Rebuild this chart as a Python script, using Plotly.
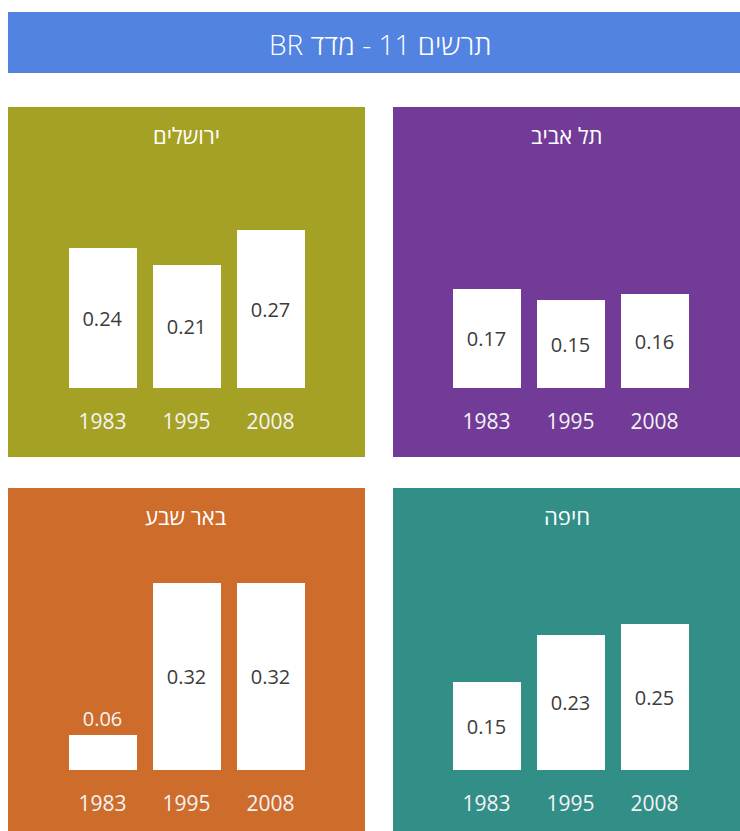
import plotly.graph_objects as go

# Data
years = ["1983", "1995", "2008"]
cities = ["ירושלים", "תל אביב", "באר שבע", "חיפה"]
jerusalem = [0.24, 0.21, 0.27]
tel_aviv = [0.17, 0.15, 0.16]
beer_sheva = [0.06, 0.32, 0.32]
haifa = [0.15, 0.23, 0.25]
main_title = "תרשים 11 - מדד BR"

W, H = 740, 831
FONT = "Open Sans"


def px(x):
    return x / W


def py(y):
    return 1 - y / H


def rtl(s):
    # right-to-left embedding so mixed Hebrew/Latin text reads correctly
    return "\u202b" + s + "\u202c"


fig = go.Figure()

# panel layout in pixels: (x0, x1, y0, y1, colour, bar-centre x, baseline y)
panels = [
    (8, 365, 107, 457, "#a5a124", 186.5, 388),
    (393, 740, 107, 457, "#723b97", 570.5, 388),
    (8, 365, 488, 831, "#ce6c2c", 186.5, 770),
    (393, 740, 488, 831, "#328f87", 570.5, 770),
]
series = [jerusalem, tel_aviv, beer_sheva, haifa]

SCALE = 585.0          # pixels per unit on the value axis
STEP = 84.0            # pixels per category
PLOT_H = 190.0         # pixel height of the value-axis domain

shapes = [
    dict(type="rect", xref="paper", yref="paper",
         x0=px(8), x1=px(740), y0=py(73), y1=py(12),
         fillcolor="#5283e0", line_width=0, layer="below"),
]
annotations = [
    dict(text=rtl(main_title), xref="paper", yref="paper",
         x=px(380), y=py(44), xanchor="center", yanchor="middle",
         showarrow=False,
         font=dict(family=FONT, size=28, color="white", weight=300)),
]

for i, ((x0, x1, y0, y1, col, cx, base), vals, name) in enumerate(
        zip(panels, series, cities)):
    n = i + 1
    xa = "x" if n == 1 else f"x{n}"
    ya = "y" if n == 1 else f"y{n}"
    shapes.append(dict(type="rect", xref="paper", yref="paper",
                       x0=px(x0), x1=px(x1), y0=py(y1), y1=py(y0),
                       fillcolor=col, line_width=0, layer="below"))
    annotations.append(dict(text=rtl(name), xref="paper", yref="paper",
                            x=px((x0 + x1) / 2), y=py(y0 + 28),
                            xanchor="center", yanchor="middle",
                            showarrow=False,
                            font=dict(family=FONT, size=22, color="white")))

    positions = ["outside" if v < 0.1 else "inside" for v in vals]
    fig.add_trace(go.Bar(
        x=years, y=vals, xaxis=xa, yaxis=ya,
        marker=dict(color="white", line_width=0),
        width=68 / STEP,
        text=[f"{v:.2f}" for v in vals],
        textposition=positions,
        insidetextanchor="middle",
        insidetextfont=dict(family=FONT, size=20, color="#3c3c3c"),
        outsidetextfont=dict(family=FONT, size=20, color="#f4f4f4"),
        cliponaxis=False,
        showlegend=False,
        hoverinfo="skip",
    ))

    xdom = [px(cx - 1.5 * STEP), px(cx + 1.5 * STEP)]
    ydom = [py(base), py(base - PLOT_H)]
    xkey = "xaxis" if n == 1 else f"xaxis{n}"
    ykey = "yaxis" if n == 1 else f"yaxis{n}"
    fig.update_layout(**{
        xkey: dict(domain=xdom, anchor=ya, type="category",
                   range=[-0.5, 2.5], showgrid=False, zeroline=False,
                   showline=False, ticks="", ticklabelstandoff=19,
                   tickfont=dict(family=FONT, size=21, color="#f4f4f4"),
                   fixedrange=True),
        ykey: dict(domain=ydom, anchor=xa, range=[0, PLOT_H / SCALE],
                   visible=False, fixedrange=True),
    })

fig.update_layout(
    width=W, height=H,
    margin=dict(l=0, r=0, t=0, b=0),
    paper_bgcolor="white", plot_bgcolor="rgba(0,0,0,0)",
    shapes=shapes, annotations=annotations,
    bargap=0,
    font=dict(family=FONT),
)

fig.write_html("out.html", config={"displayModeBar": False})
